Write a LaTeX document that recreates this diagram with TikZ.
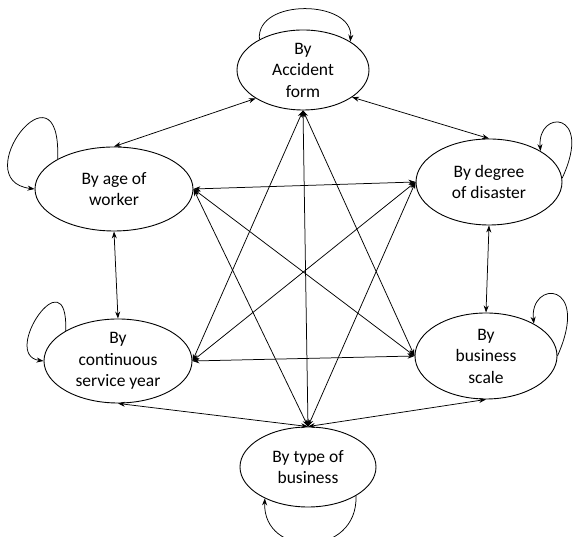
\documentclass[tikz,border=0pt]{standalone}
\usepackage{fontspec}
\setmainfont{Carlito}
\usetikzlibrary{shapes.geometric,arrows.meta}
\begin{document}
\begin{tikzpicture}[x=1pt,y=1pt,
  ell/.style={ellipse,draw,line width=0.9pt,inner sep=0pt,align=center,font=\fontsize{17.5}{21.5}\selectfont},
  link/.style={{Stealth[length=7pt,width=5pt]}-{Stealth[length=7pt,width=5pt]},line width=0.75pt},
  selfl/.style={-{Stealth[length=7pt,width=5pt]},line width=0.75pt}]
\useasboundingbox (0,0) rectangle (575,537);
\node[ell,minimum width=132pt,minimum height=80pt] (acc) at (303,467) {By\\Accident\\form};
\node[ell,minimum width=158pt,minimum height=84pt] (age) at (114,348) {By age of\\worker};
\node[ell,minimum width=146pt,minimum height=86pt] (deg) at (489,355) {By degree\\of disaster};
\node[ell,minimum width=148pt,minimum height=84pt] (cont) at (118,176) {By\\continuous\\service year};
\node[ell,minimum width=142pt,minimum height=86pt] (scale) at (486,181) {By\\business\\scale};
\node[ell,minimum width=136pt,minimum height=80pt] (type) at (308,70) {By type of\\business};
% self loops
\draw[selfl] (acc.145) .. controls +(95:42) and +(85:42) .. (acc.31);
\draw[selfl] (age.152) .. controls +(88:105) and +(173:70) .. (age.west);
\draw[selfl] (cont.150) .. controls +(88:77) and +(172:44) .. (cont.west);
\draw[selfl] (deg.3) .. controls +(65:75) and +(95:42) .. (deg.31);
\draw[selfl] (scale.east) .. controls +(66:83) and +(96:44) .. (scale.34);
\draw[selfl] (type.329) .. controls +(272:62) and +(268:60) .. (type.216);
% perimeter links
\draw[link] (acc.211) -- (age.north);
\draw[link] (acc.331) -- (deg.north);
\draw[link] (age.south) -- (cont.north);
\draw[link] (deg.south) -- (scale.north);
\draw[link] (cont.south) -- (type.north);
\draw[link] (scale.south) -- (type.north);
% hub links
\draw[link] (acc.south) -- (type.north);
\draw[link] (acc.south) -- (cont.east);
\draw[link] (acc.south) -- (scale.west);
\draw[link] (age.east) -- (deg.west);
\draw[link] (age.east) -- (scale.west);
\draw[link] (age.east) -- (type.north);
\draw[link] (deg.west) -- (cont.east);
\draw[link] (deg.west) -- (type.north);
\draw[link] (cont.east) -- (scale.west);
\end{tikzpicture}
\end{document}
